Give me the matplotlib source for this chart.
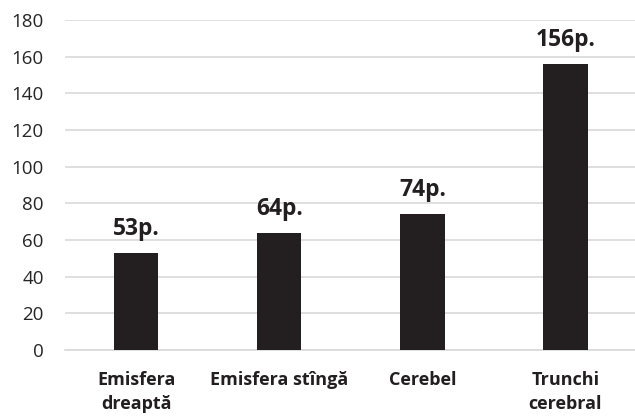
import matplotlib.pyplot as plt

# scores per brain region
regions = ["Emisfera\ndreaptă", "Emisfera stîngă", "Cerebel", "Trunchi\ncerebral"]
scores = [53, 64, 74, 156]
score_labels = ["53p.", "64p.", "74p.", "156p."]
y_ticks = [0, 20, 40, 60, 80, 100, 120, 140, 160, 180]

plt.rcParams['font.family'] = ['Open Sans', 'DejaVu Sans']

fig = plt.figure(figsize=(6.35, 4.16), dpi=100)
ax = fig.add_axes([0.1016, 0.1587, 0.9016, 0.7933])

x = list(range(len(regions)))
bars = ax.bar(x, scores, width=0.31, color="#231F20", zorder=3)

for bar, lab in zip(bars, score_labels):
    ax.annotate(lab, (bar.get_x() + bar.get_width() / 2, bar.get_height()),
                xytext=(0, 13), textcoords="offset points",
                ha="center", va="baseline", fontsize=16.5, fontweight="bold",
                color="#231F20")

ax.set_xlim(-0.5, len(regions) - 0.5)
ax.set_ylim(0, 180)
ax.set_yticks(y_ticks)
ax.set_xticks(x)
ax.set_xticklabels(regions, fontsize=13, fontweight="bold", color="#231F20",
                   linespacing=1.45)
ax.tick_params(axis="y", length=0, pad=15, labelsize=13.5, labelcolor="#262626")
ax.tick_params(axis="x", length=0, pad=15)

ax.yaxis.grid(True, color="#D9D9D9", linewidth=1.2, zorder=0)
for side in ["top", "right", "left"]:
    ax.spines[side].set_visible(False)
ax.spines["bottom"].set_color("#D9D9D9")
ax.spines["bottom"].set_linewidth(1.2)

fig.savefig("out.png", dpi=100)
